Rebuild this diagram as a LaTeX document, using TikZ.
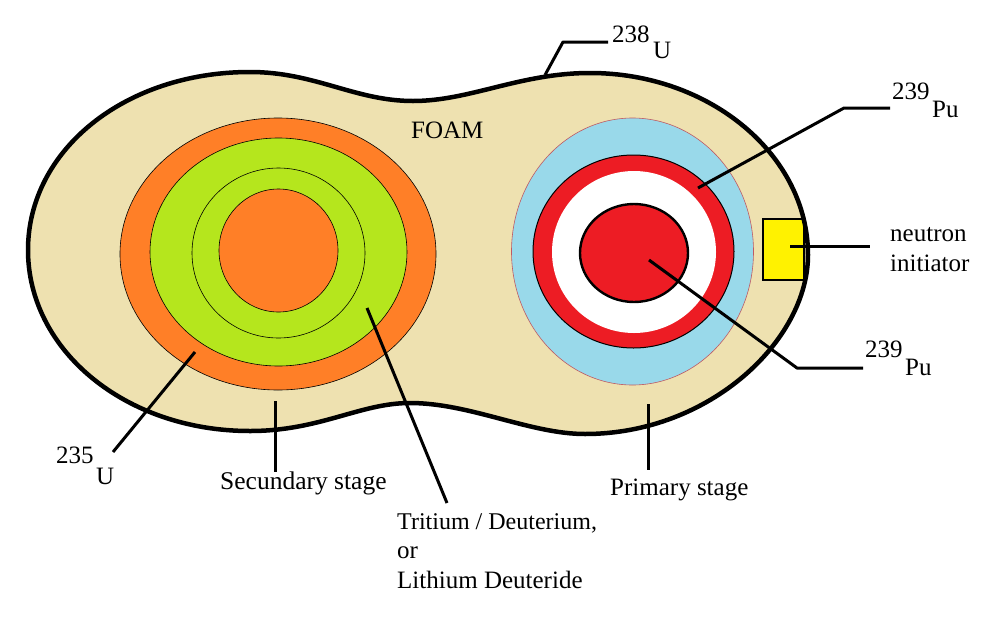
\documentclass[tikz,border=0pt]{standalone}
\usepackage{fontspec}
\setmainfont{Liberation Serif}
\definecolor{foam}{RGB}{238,225,176}
\definecolor{orng}{RGB}{255,127,39}
\definecolor{grn}{RGB}{181,230,29}
\definecolor{blu}{RGB}{153,217,234}
\definecolor{rd}{RGB}{237,28,36}
\definecolor{yel}{RGB}{255,242,0}
\definecolor{pinkline}{RGB}{190,90,100}
\tikzset{
 lbl/.style={font=\fontsize{25}{25}\selectfont,anchor=base west,inner sep=0pt,text=black},
 lead/.style={draw=black,line width=3pt,line join=round},
 shell/.style={line width=0.6pt},
}
\newcommand{\casing}{(28,250) .. controls (28,150) and (125,72) .. (250,72)
 .. controls (315,72) and (355,101) .. (413,101)
 .. controls (470,101) and (520,73) .. (590,73)
 .. controls (710,73) and (808,155) .. (808,255)
 .. controls (808,340) and (710,434) .. (585,434)
 .. controls (530,434) and (470,403) .. (410,403)
 .. controls (360,403) and (320,431) .. (250,431)
 .. controls (125,431) and (28,350) .. (28,250) -- cycle}
\begin{document}
\begin{tikzpicture}[x=1pt,y=-1pt]
\useasboundingbox (0,0) rectangle (1002,622);
\fill[white] (0,0) rectangle (1002,622);
\path[fill=foam] \casing;
% secondary
\fill[orng,draw=black,shell] (278,254) ellipse [x radius=158,y radius=136];
\fill[grn,draw=black,shell] (278.5,252) ellipse [x radius=128.5,y radius=114];
\draw[black,shell] (278.5,253) ellipse [x radius=86.5,y radius=85];
\fill[orng,draw=black,shell] (278.5,250.5) ellipse [x radius=59.5,y radius=61.5];
% primary
\fill[blu,draw=pinkline,shell] (632.5,251.5) ellipse [x radius=121,y radius=133.5];
\fill[rd,draw=black,line width=1pt] (633.5,251.5) ellipse [x radius=100.5,y radius=96.5];
\fill[white] (634,252) ellipse [x radius=82,y radius=81];
\fill[rd,draw=black,line width=2.4pt] (634,253) ellipse [x radius=54,y radius=49];
% initiator
\fill[yel,draw=black,line width=2.6pt] (763,219) rectangle (804,280);
% outer casing outline
\draw[black,line width=4.5pt,line join=round] \casing;
% labels
\node[lbl] (foam) at (411,138) {FOAM};
\node[lbl] (u238n) at (612,42) {238};
\node[lbl] (u238s) at (653,58) {U};
\node[lbl] (pu1n) at (892,99) {239};
\node[lbl] (pu1s) at (932,117) {Pu};
\node[lbl] (neu) at (890,241) {neutron};
\node[lbl] (ini) at (890,271) {initiator};
\node[lbl] (pu2n) at (865,357) {239};
\node[lbl] (pu2s) at (905,375) {Pu};
\node[lbl] (u235n) at (56,463) {235};
\node[lbl] (u235s) at (96,484) {U};
\node[lbl,font=\fontsize{25.5}{25.5}\selectfont] (sec) at (220,489) {Secundary stage};
\node[lbl] (pri) at (610,495) {Primary stage};
\node[lbl,font=\fontsize{24}{24}\selectfont] (tri) at (397,529) {Tritium / Deuterium,};
\node[lbl] (ora) at (397,558) {or};
\node[lbl] (lit) at (397,588) {Lithium Deuteride};
% leader lines
\coordinate (a1) at (545,75); \coordinate (a2) at (563,42); \coordinate (a3) at (608,42);
\draw[lead] (a1) -- (a2) -- (a3);
\coordinate (b1) at (698,188); \coordinate (b2) at (844,108); \coordinate (b3) at (890,108);
\draw[lead] (b1) -- (b2) -- (b3);
\coordinate (c1) at (649,260); \coordinate (c2) at (797,368); \coordinate (c3) at (863,368);
\draw[lead] (c1) -- (c2) -- (c3);
\coordinate (d1) at (790,246); \coordinate (d2) at (870,246);
\draw[lead] (d1) -- (d2);
\coordinate (e1) at (195,352); \coordinate (e2) at (113,452);
\draw[lead] (e1) -- (e2);
\coordinate (f1) at (275,401); \coordinate (f2) at (275,472);
\draw[lead] (f1) -- (f2);
\coordinate (g1) at (367,308); \coordinate (g2) at (447,503);
\draw[lead] (g1) -- (g2);
\coordinate (h1) at (648,404); \coordinate (h2) at (648,470);
\draw[lead] (h1) -- (h2);
\end{tikzpicture}
\end{document}
